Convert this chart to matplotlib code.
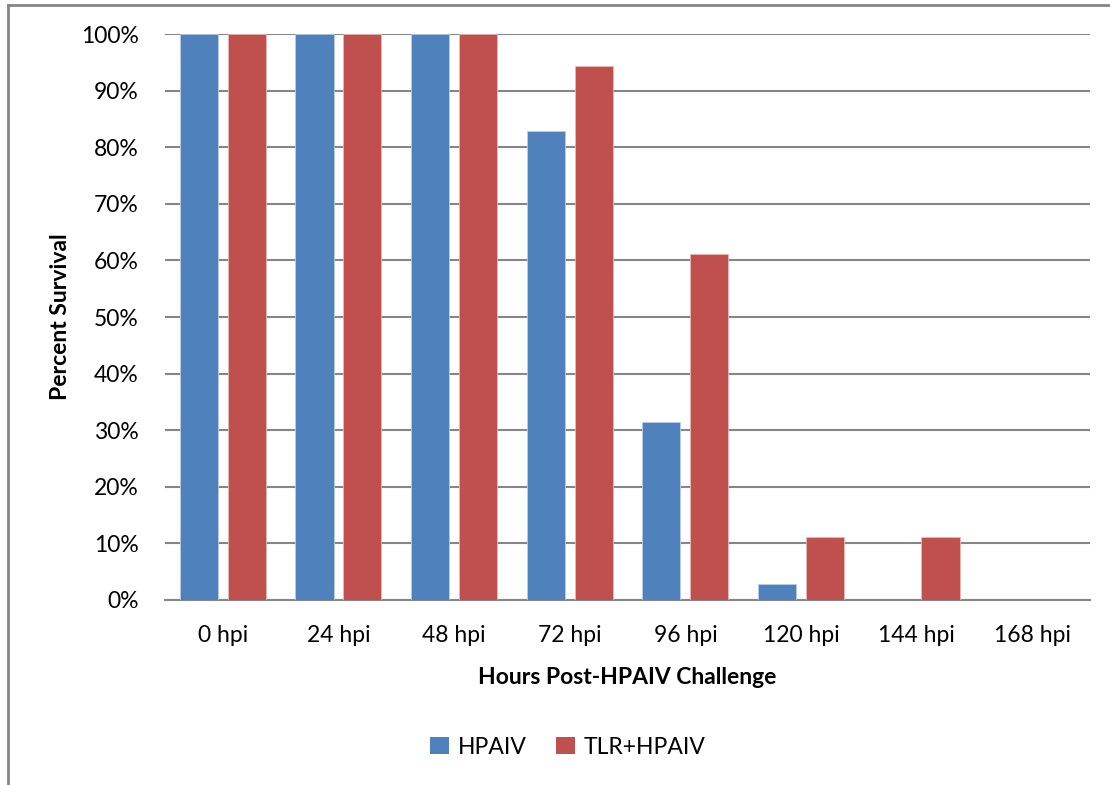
import matplotlib
matplotlib.use("Agg")
import matplotlib.pyplot as plt
from matplotlib.lines import Line2D
from matplotlib.patches import Patch
import numpy as np

categories = ["0 hpi", "24 hpi", "48 hpi", "72 hpi", "96 hpi", "120 hpi", "144 hpi", "168 hpi"]
hpaiv = [100, 100, 100, 82.9, 31.4, 2.9, 0, 0]
tlr_hpaiv = [100, 100, 100, 94.4, 61.1, 11.1, 11.1, 0]
series_names = ["HPAIV", "TLR+HPAIV"]
y_ticks = [0, 10, 20, 30, 40, 50, 60, 70, 80, 90, 100]

blue = "#4F81BD"
red = "#C0504D"
grid_color = "#868686"

plt.rcParams["font.family"] = ["Lato", "DejaVu Sans"]
FS = 16.5

fig = plt.figure(figsize=(11.1, 7.85), dpi=100)
ax = fig.add_axes([165 / 1110, 1 - 600 / 785, 925 / 1110, 566 / 785])

x = np.arange(len(categories))
w = 0.329
off = 0.207
ax.bar(x - off, hpaiv, w, color=blue, edgecolor="#B9CDE5", linewidth=0.6, zorder=3)
ax.bar(x + off, tlr_hpaiv, w, color=red, edgecolor="#E6B9B8", linewidth=0.6, zorder=3)

ax.set_xlim(-0.5, len(categories) - 0.5)
ax.set_ylim(0, 100)
ax.set_yticks(y_ticks)
ax.set_yticklabels([f"{t}%" for t in y_ticks], fontsize=FS)
ax.set_xticks(x)
ax.set_xticklabels(categories, fontsize=FS)
ax.tick_params(axis="x", length=0, pad=18)
ax.tick_params(axis="y", length=0, pad=19)

ax.yaxis.grid(True, color=grid_color, linewidth=1.5, zorder=0)
ax.set_axisbelow(True)
for side in ["left", "right", "top"]:
    ax.spines[side].set_visible(False)
ax.spines["bottom"].set_color(grid_color)
ax.spines["bottom"].set_linewidth(1.5)

ax.set_ylabel("Percent Survival", fontsize=FS, fontweight="bold", labelpad=7)
ax.set_xlabel("Hours Post-HPAIV Challenge", fontsize=FS, fontweight="bold", labelpad=15)

handles = [Patch(facecolor=blue), Patch(facecolor=red)]
fig.legend(handles, series_names, loc="center", bbox_to_anchor=(568 / 1110, 1 - 747 / 785),
           ncol=2, frameon=False, fontsize=FS, handlelength=0.8, handleheight=0.8,
           handletextpad=0.4, columnspacing=1.3)

# chart frame
fig.add_artist(Line2D([7.5 / 1110, 7.5 / 1110], [0, 1 - 5 / 785], transform=fig.transFigure,
                      color=grid_color, linewidth=2))
fig.add_artist(Line2D([7.5 / 1110, 1], [1 - 5 / 785, 1 - 5 / 785], transform=fig.transFigure,
                      color=grid_color, linewidth=2))

fig.savefig("out.png", dpi=100, facecolor="white")
